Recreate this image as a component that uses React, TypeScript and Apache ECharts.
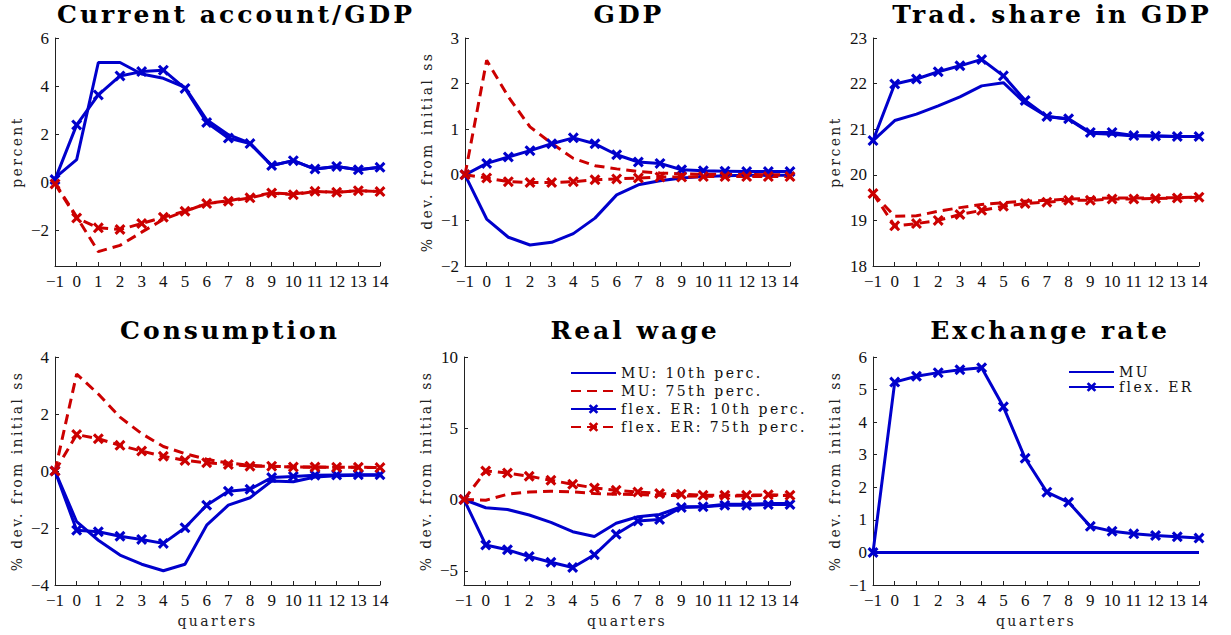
import { useRef, useEffect } from "react"
import * as echarts from "echarts"

const quarters = [-1, 0, 1, 2, 3, 4, 5, 6, 7, 8, 9, 10, 11, 12, 13, 14]

// Current account / GDP
const caMU10 = [0.17, 0.93, 4.98, 4.98, 4.5, 4.32, 3.94, 2.59, 1.97, 1.62, 0.69, 0.89, 0.54, 0.65, 0.51, 0.61]
const caMU75 = [-0.04, -1.45, -2.9, -2.64, -2.09, -1.56, -1.22, -0.9, -0.78, -0.62, -0.46, -0.5, -0.39, -0.43, -0.36, -0.4]
const caFlex10 = [0.1, 2.38, 3.63, 4.42, 4.6, 4.66, 3.9, 2.48, 1.83, 1.6, 0.69, 0.89, 0.54, 0.65, 0.51, 0.61]
const caFlex75 = [-0.08, -1.5, -1.91, -1.98, -1.73, -1.47, -1.22, -0.9, -0.8, -0.66, -0.46, -0.53, -0.39, -0.43, -0.36, -0.4]

// GDP
const gdpMU10 = [0, -0.97, -1.37, -1.54, -1.48, -1.29, -0.95, -0.44, -0.22, -0.13, -0.07, -0.04, -0.02, -0.01, -0.01, -0.01]
const gdpMU75 = [0, 2.51, 1.71, 1.05, 0.69, 0.36, 0.2, 0.13, 0.07, 0.04, 0.02, 0.01, 0.01, 0.01, 0, 0]
const gdpFlex10 = [0, 0.25, 0.39, 0.53, 0.68, 0.81, 0.68, 0.44, 0.28, 0.25, 0.11, 0.09, 0.08, 0.07, 0.07, 0.07]
const gdpFlex75 = [0, -0.07, -0.15, -0.17, -0.17, -0.15, -0.11, -0.09, -0.07, -0.05, -0.05, -0.04, -0.04, -0.04, -0.04, -0.04]

// Tradables share in GDP
const tsMU10 = [20.75, 21.19, 21.33, 21.51, 21.71, 21.95, 22.02, 21.57, 21.28, 21.22, 20.91, 20.89, 20.85, 20.85, 20.84, 20.84]
const tsMU75 = [19.59, 19.09, 19.1, 19.2, 19.28, 19.35, 19.39, 19.42, 19.44, 19.47, 19.48, 19.49, 19.49, 19.49, 19.5, 19.51]
const tsFlex10 = [20.75, 21.99, 22.1, 22.26, 22.39, 22.53, 22.17, 21.63, 21.28, 21.23, 20.93, 20.93, 20.86, 20.85, 20.84, 20.84]
const tsFlex75 = [19.59, 18.88, 18.93, 19.0, 19.13, 19.22, 19.31, 19.37, 19.4, 19.44, 19.44, 19.47, 19.47, 19.48, 19.49, 19.51]

// Consumption
const cMU10 = [0, -1.78, -2.43, -2.95, -3.27, -3.5, -3.27, -1.9, -1.2, -0.94, -0.35, -0.38, -0.21, -0.17, -0.15, -0.15]
const cMU75 = [0, 3.4, 2.7, 1.89, 1.31, 0.86, 0.61, 0.41, 0.28, 0.2, 0.16, 0.14, 0.13, 0.13, 0.13, 0.12]
const cFlex10 = [0, -2.08, -2.13, -2.29, -2.4, -2.54, -1.99, -1.2, -0.71, -0.64, -0.23, -0.19, -0.15, -0.14, -0.13, -0.13]
const cFlex75 = [0, 1.28, 1.13, 0.9, 0.7, 0.52, 0.37, 0.29, 0.23, 0.17, 0.17, 0.14, 0.14, 0.13, 0.13, 0.12]

// Real wage
const wMU10 = [0, -0.58, -0.7, -1.09, -1.6, -2.26, -2.6, -1.67, -1.21, -1.05, -0.51, -0.51, -0.33, -0.33, -0.28, -0.28]
const wMU75 = [0, -0.05, 0.37, 0.53, 0.58, 0.53, 0.42, 0.37, 0.35, 0.3, 0.26, 0.23, 0.23, 0.26, 0.28, 0.28]
const wFlex10 = [0, -3.19, -3.53, -4.0, -4.4, -4.77, -3.88, -2.44, -1.51, -1.4, -0.56, -0.51, -0.4, -0.4, -0.35, -0.35]
const wFlex75 = [0, 2.0, 1.86, 1.63, 1.35, 1.07, 0.81, 0.65, 0.53, 0.42, 0.37, 0.3, 0.3, 0.3, 0.33, 0.3]

// Exchange rate
const erMU = [0, 0, 0, 0, 0, 0, 0, 0, 0, 0, 0, 0, 0, 0, 0, 0]
const erFlex = [0, 5.23, 5.41, 5.52, 5.61, 5.67, 4.47, 2.89, 1.85, 1.54, 0.8, 0.65, 0.57, 0.52, 0.48, 0.44]

const titles = ["Current account/GDP", "GDP", "Trad. share in GDP", "Consumption", "Real wage", "Exchange rate"]
const yNames = ["percent", "% dev. from initial ss", "percent", "% dev. from initial ss", "% dev. from initial ss", "% dev. from initial ss"]
const yRanges = [[-3.5, 6], [-2, 3], [18, 23], [-4, 4], [-6, 10], [-1, 6]]
const yTicks = [
  [-2, 0, 2, 4, 6],
  [-2, -1, 0, 1, 2, 3],
  [18, 19, 20, 21, 22, 23],
  [-4, -2, 0, 2, 4],
  [-5, 0, 5, 10],
  [-1, 0, 1, 2, 3, 4, 5, 6],
]
const seriesNames = ["MU: 10th perc.", "MU: 75th perc.", "flex. ER: 10th perc.", "flex. ER: 75th perc."]
const erNames = ["MU", "flex. ER"]

const BLUE = "#0000cc"
const RED = "#cc0000"
const XMARK = "path://M0,2 L2,0 L5,3 L8,0 L10,2 L7,5 L10,8 L8,10 L5,7 L2,10 L0,8 L3,5 Z"
const SERIF = "DejaVu Serif"
const TICKFONT = "Liberation Serif"

// grid boxes: left, top, width, height
const grids = [
  [55, 38, 325, 228],
  [465, 38, 325, 228],
  [873, 38, 326, 228],
  [55, 357, 325, 228],
  [464, 357, 326, 228],
  [873, 357, 326, 228],
]
const titleCenters = [236, 629, 1052, 230, 635, 1050]

const pairs = (ys: number[]) => quarters.map((q, i) => [q, ys[i]])
const minus = (v: number | string) => String(v).replace("-", "\u2212")

function line(name: string, gi: number, ys: number[], color: string, dashed: boolean, marked: boolean) {
  return {
    type: "line",
    name,
    xAxisIndex: gi,
    yAxisIndex: gi,
    data: pairs(ys),
    symbol: marked ? XMARK : "none",
    symbolSize: 11,
    showSymbol: marked,
    itemStyle: { color },
    lineStyle: { color, width: 3, type: dashed ? [10, 6] : "solid" },
    emphasis: { disabled: true },
  }
}

// legend entries: plain lines hide the default circle marker
const legendItem = (name: string, marked: boolean) =>
  marked ? { name } : { name, itemStyle: { opacity: 0, borderWidth: 0 } }

export default function App() {
  const chartRef = useRef<HTMLDivElement>(null)

  useEffect(() => {
    if (!chartRef.current) return
    document.body.style.margin = "0"
    const chart = echarts.init(chartRef.current, undefined, { renderer: "svg", width: 1231, height: 635 })

    const panels = [
      [caMU10, caMU75, caFlex10, caFlex75],
      [gdpMU10, gdpMU75, gdpFlex10, gdpFlex75],
      [tsMU10, tsMU75, tsFlex10, tsFlex75],
      [cMU10, cMU75, cFlex10, cFlex75],
      [wMU10, wMU75, wFlex10, wFlex75],
    ]
    const series: any[] = []
    panels.forEach((p, gi) => {
      series.push(line(seriesNames[0], gi, p[0], BLUE, false, false))
      series.push(line(seriesNames[1], gi, p[1], RED, true, false))
      series.push(line(seriesNames[2], gi, p[2], BLUE, false, true))
      series.push(line(seriesNames[3], gi, p[3], RED, true, true))
    })
    series.push(line(erNames[0], 5, erMU, BLUE, false, false))
    series.push(line(erNames[1], 5, erFlex, BLUE, false, true))

    const axisLine = { show: true, onZero: false, lineStyle: { color: "#222", width: 1 } }
    const axisTick = { show: true, inside: true, length: 4, lineStyle: { color: "#222" } }
    const legendText = { fontFamily: SERIF, fontSize: 14, color: "#111" }

    chart.setOption({
      animation: false,
      backgroundColor: "#fff",
      title: titles.map((t, i) => ({
        text: t,
        left: titleCenters[i],
        top: i < 3 ? 2 : 318,
        padding: 0,
        textAlign: "center",
        textStyle: { fontFamily: SERIF, fontWeight: "bold", fontSize: 25, color: "#000" },
      })),
      grid: grids.map(([left, top, width, height]) => ({ left, top, width, height })),
      xAxis: grids.map((_, i) => ({
        type: "value",
        gridIndex: i,
        min: -1,
        max: 14,
        interval: 1,
        name: i >= 3 ? "quarters" : "",
        nameLocation: "middle",
        nameGap: 29,
        nameTextStyle: { fontFamily: SERIF, fontSize: 14, color: "#222" },
        axisLine,
        axisTick,
        splitLine: { show: false },
        axisLabel: {
          margin: 7,
          fontFamily: TICKFONT,
          fontSize: 17,
          color: "#111",
          formatter: minus,
        },
      })),
      yAxis: grids.map((_, i) => ({
        type: "value",
        gridIndex: i,
        min: yRanges[i][0],
        max: yRanges[i][1],
        name: yNames[i],
        nameLocation: "middle",
        nameRotate: 90,
        nameGap: 31,
        nameTextStyle: { fontFamily: SERIF, fontSize: 14, color: "#222" },
        axisLine,
        axisTick: { ...axisTick, customValues: yTicks[i] },
        splitLine: { show: false },
        axisLabel: {
          margin: 6,
          fontFamily: TICKFONT,
          fontSize: 17,
          color: "#111",
          customValues: yTicks[i],
          formatter: minus,
        },
      })),
      legend: [
        {
          data: seriesNames.map((n, k) => legendItem(n, k >= 2)),
          orient: "vertical",
          left: 565,
          top: 361,
          itemWidth: 45,
          itemHeight: 12,
          itemGap: 4,
          selectedMode: false,
          textStyle: legendText,
        },
        {
          data: erNames.map((n, k) => legendItem(n, k >= 1)),
          orient: "vertical",
          left: 1063,
          top: 360,
          itemWidth: 45,
          itemHeight: 12,
          itemGap: 1,
          selectedMode: false,
          textStyle: legendText,
        },
      ],
      series,
    })

    return () => {
      chart.dispose()
    }
  }, [])

  return (
    <>
      <style>{`
        #irf text[style*="25px"] { letter-spacing: 3px; }
        #irf text[style*="14px"] { letter-spacing: 2.4px; }
      `}</style>
      <div
        id="irf"
        ref={chartRef}
        style={{ position: "fixed", left: 0, top: 0, width: 1231, height: 635, background: "#fff" }}
      />
    </>
  )
}
